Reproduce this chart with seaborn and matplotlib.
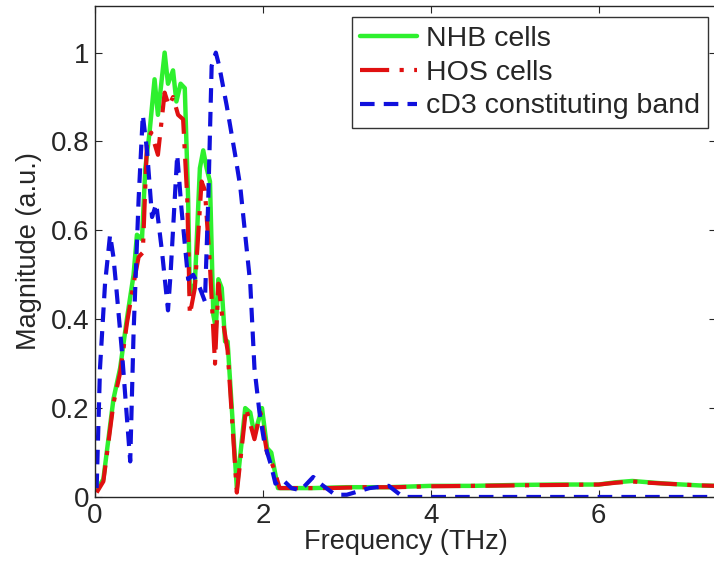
import numpy as np
import pandas as pd
import seaborn as sns
import matplotlib.pyplot as plt

# NHB cells (green, solid)
nhb_freq = [0.02, 0.1, 0.22, 0.3, 0.38, 0.46, 0.5, 0.56, 0.6, 0.65, 0.71, 0.75, 0.83, 0.87,
            0.93, 0.97, 1.02, 1.07, 1.11, 1.13, 1.19, 1.25, 1.29, 1.33, 1.37, 1.41, 1.44,
            1.47, 1.51, 1.55, 1.58, 1.69, 1.79, 1.85, 1.9, 1.99, 2.05, 2.1, 2.18, 2.32,
            2.6, 3.0, 3.5, 4.0, 4.5, 5.0, 5.5, 6.0, 6.2, 6.4, 6.6, 6.8, 7.0, 7.2, 7.4]
nhb_mag = [0.016, 0.04, 0.22, 0.29, 0.40, 0.50, 0.59, 0.58, 0.74, 0.82, 0.94, 0.86, 1.0, 0.93,
           0.96, 0.89, 0.93, 0.92, 0.67, 0.46, 0.48, 0.74, 0.78, 0.74, 0.71, 0.41, 0.38,
           0.49, 0.47, 0.35, 0.35, 0.02, 0.20, 0.19, 0.14, 0.20, 0.11, 0.10, 0.02, 0.02,
           0.02, 0.022, 0.022, 0.025, 0.025, 0.027, 0.028, 0.028, 0.033, 0.036, 0.033, 0.03,
           0.028, 0.026, 0.025]

# HOS cells (red, dash-dot)
hos_freq = [0.02, 0.1, 0.22, 0.3, 0.38, 0.46, 0.52, 0.57, 0.62, 0.67, 0.75, 0.83, 0.88,
            0.93, 0.99, 1.05, 1.1, 1.13, 1.19, 1.27, 1.31, 1.37, 1.43, 1.47, 1.52, 1.58,
            1.69, 1.8, 1.9, 1.97, 2.05, 2.12, 2.2, 2.4, 2.8, 3.2, 3.6, 4.0, 4.5, 5.0,
            5.5, 6.0, 6.2, 6.4, 6.6, 6.8, 7.0, 7.2, 7.4]
hos_mag = [0.01, 0.035, 0.21, 0.28, 0.39, 0.48, 0.54, 0.55, 0.80, 0.82, 0.77, 0.91, 0.88,
           0.90, 0.86, 0.85, 0.67, 0.41, 0.47, 0.71, 0.69, 0.52, 0.30, 0.48, 0.40, 0.33,
           0.01, 0.20, 0.13, 0.19, 0.10, 0.07, 0.02, 0.02, 0.02, 0.022, 0.022, 0.024, 0.025,
           0.026, 0.027, 0.028, 0.032, 0.035, 0.032, 0.03, 0.028, 0.026, 0.025]

# cD3 constituting band (blue, dashed)
cd3_freq = [0.02, 0.06, 0.12, 0.18, 0.22, 0.25, 0.32, 0.42, 0.46, 0.52, 0.57, 0.62, 0.68,
            0.73, 0.8, 0.87, 0.9, 0.98, 1.03, 1.11, 1.17, 1.25, 1.31, 1.35, 1.39, 1.44,
            1.48, 1.57, 1.67, 1.73, 1.79, 1.85, 1.9, 1.96, 2.02, 2.1, 2.15, 2.23, 2.34,
            2.45, 2.6, 2.65, 2.86, 3.0, 3.27, 3.5, 3.67, 4.0, 5.0, 6.0, 7.0, 7.4]
cd3_mag = [0.02, 0.29, 0.48, 0.59, 0.54, 0.48, 0.33, 0.08, 0.37, 0.67, 0.86, 0.78, 0.63,
           0.66, 0.55, 0.42, 0.50, 0.77, 0.65, 0.49, 0.50, 0.47, 0.44, 0.67, 0.97, 1.0,
           0.97, 0.88, 0.77, 0.70, 0.59, 0.48, 0.29, 0.19, 0.12, 0.07, 0.03, 0.04, 0.02,
           0.015, 0.045, 0.035, 0.005, 0.005, 0.02, 0.025, 0.0, 0.0, 0.0, 0.0, 0.0, 0.0]

sns.set_style("ticks")
plt.rcParams['font.family'] = ['Liberation Sans', 'DejaVu Sans']

fig = plt.figure(figsize=(7.14, 5.67), dpi=100)
ax = fig.add_axes([0.133, 0.1235, 0.87, 0.866])

sns.lineplot(x=nhb_freq, y=nhb_mag, ax=ax, sort=False, color='#2ef02e', lw=3.2,
             label='NHB cells')
sns.lineplot(x=hos_freq, y=hos_mag, ax=ax, sort=False, color='#e01010', lw=3,
             dashes=False, label='HOS cells')
ax.lines[-1].set_dashes([7, 2.5, 1, 2.5])
sns.lineplot(x=cd3_freq, y=cd3_mag, ax=ax, sort=False, color='#1010dd', lw=3,
             label='cD3 constituting band')
ax.lines[-1].set_dashes([3.5, 2.2])

ax.set_xlim(0, 7.4)
ax.set_ylim(0, 1.105)
ax.set_xticks([0, 2, 4, 6])
ax.set_xticklabels(['0', '2', '4', '6'])
ax.set_yticks([0, 0.2, 0.4, 0.6, 0.8, 1])
ax.set_yticklabels(['0', '0.2', '0.4', '0.6', '0.8', '1'])
ax.tick_params(direction='in', length=5, width=0.8, labelsize=20, top=True, right=True,
               pad=4)
for s in ax.spines.values():
    s.set_linewidth(1)
ax.set_xlabel('Frequency (THz)', fontsize=19.5, labelpad=0)
ax.set_ylabel('Magnitude (a.u.)', fontsize=19.5, labelpad=6)

leg = ax.legend(loc='upper right', bbox_to_anchor=(0.992, 0.97), bbox_transform=fig.transFigure,
                fontsize=20.5, frameon=True, fancybox=False, edgecolor='black',
                handlelength=2.0, labelspacing=0.28, borderpad=0.3, handletextpad=0.3,
                borderaxespad=0)
leg.get_frame().set_linewidth(1)

fig.savefig('out.png', dpi=100)
